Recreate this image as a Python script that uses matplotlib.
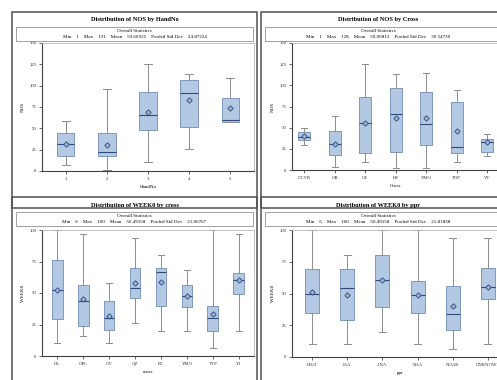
import matplotlib

matplotlib.use("Agg")

import matplotlib.pyplot as plt
from matplotlib.patches import Rectangle

# NOS by HandNo
hand_cats = ["1", "2", "3", "4", "5"]
hand_whislo = [7, 1, 10, 26, 58]
hand_q1 = [18, 17, 48, 51, 58]
hand_med = [32, 22, 66, 91, 60]
hand_q3 = [44, 45, 92, 107, 86]
hand_whishi = [59, 96, 125, 114, 109]
hand_mean = [31.6, 31, 69, 83, 74]

# NOS by Cross
cross_cats = ["OCVR", "OR", "GE", "BY", "YMO", "TOP", "VT"]
cross_whislo = [29, 3, 9, 2, 2, 9, 17]
cross_q1 = [35, 18, 20, 21, 29, 20, 21]
cross_med = [39.5, 31, 55, 66, 54, 27, 33]
cross_q3 = [45, 46, 86, 97, 92, 80, 37]
cross_whishi = [50, 64, 125, 113, 115, 95, 42]
cross_mean = [40, 31, 56, 61, 61, 46, 33]

# WEEK0 by cross
wk_cats = ["DL", "OPL", "OV", "QZ", "RC", "YMO", "YTP", "YJ"]
wk_whislo = [10, 16, 10, 26, 20, 20, 6, 20]
wk_q1 = [29.5, 23.6, 21, 46, 40, 39, 20, 49]
wk_med = [52.5, 44, 30, 54, 67, 48, 30, 60]
wk_q3 = [76, 56, 44, 70, 70, 56, 40, 66]
wk_whishi = [100, 96.5, 57.6, 94, 80, 68, 100, 96.5]
wk_mean = [52, 45, 32, 58, 59, 48, 33, 60]

# WEEK0 by ppr
ppr_cats = ["HAJI", "IAA", "JINA", "NAA", "NOAK", "UNKNOWN"]
ppr_whislo = [10, 10, 20, 10, 6, 10]
ppr_q1 = [35, 29, 39.5, 35, 21, 46]
ppr_med = [50, 54, 61, 49, 34, 55.5]
ppr_q3 = [69, 69, 80, 59.5, 56, 70]
ppr_whishi = [100, 80, 100, 100, 94, 94]
ppr_mean = [51, 49, 61, 49, 40.5, 55]

W, H = 497, 380
BOX_FILL = "#B3C8E3"
BOX_EDGE = "#6F8DB5"
MED_COLOR = "#2E4A78"
WHISK = "#8C8C8C"
FONT = ["Liberation Serif", "DejaVu Serif"]

fig = plt.figure(figsize=(W / 100, H / 100), dpi=100)
fig.patch.set_facecolor("white")


def px_rect(x0, y0, x1, y1):
    # pixel box (top-left origin) -> figure fraction [l, b, w, h]
    return [x0 / W, 1 - y1 / H, (x1 - x0) / W, (y1 - y0) / H]


def fig_frame(x0, y0, x1, y1, color="#505050", lw=1.0):
    l, b, w, h = px_rect(x0, y0, x1, y1)
    fig.patches.append(Rectangle((l, b), w, h, transform=fig.transFigure,
                                 fill=False, edgecolor=color, linewidth=lw))


def fig_text(x, y, s, **kw):
    fig.text(x / W, 1 - y / H, s, family=FONT, ha="center", va="center", **kw)


def panel(px0, py0, px1, ax_box, title, stats, cats, lo, q1, med, q3, hi, mean,
          ylim, yticks, xlabel, ylabel, xpad, box_w):
    # outer frame, title and statistics inset
    fig_frame(px0, py0, px1, py0 + 196, lw=1.1)
    cx = (px0 + 4 + min(px1, 497) - 4) / 2 if px1 < 300 else 378
    fig_text(cx, py0 + 8, title, fontsize=4.6, weight="bold")
    fig_frame(px0 + 4, py0 + 14.5, px1 - 4, py0 + 28.5, color="#909090", lw=0.6)
    fig_text(cx, py0 + 19, "Overall Statistics", fontsize=3.6)
    fig_text(cx, py0 + 25, stats, fontsize=3.6)

    ax = fig.add_axes(px_rect(*ax_box))
    stats_list = []
    for i in range(len(cats)):
        stats_list.append(dict(whislo=lo[i], q1=q1[i], med=med[i], q3=q3[i],
                               whishi=hi[i], mean=mean[i], fliers=[]))
    pos = list(range(1, len(cats) + 1))
    ax.bxp(stats_list, positions=pos, widths=box_w, patch_artist=True,
           showmeans=True, showcaps=True,
           boxprops=dict(facecolor=BOX_FILL, edgecolor=BOX_EDGE, linewidth=0.6),
           medianprops=dict(color=MED_COLOR, linewidth=0.8),
           whiskerprops=dict(color=WHISK, linewidth=0.7),
           capprops=dict(color=WHISK, linewidth=0.7),
           meanprops=dict(marker="D", markersize=2.8, markerfacecolor="#9DB6D8",
                          markeredgecolor=MED_COLOR, markeredgewidth=0.6))
    ax.set_xlim(1 - xpad, len(cats) + xpad)
    ax.set_ylim(*ylim)
    ax.set_yticks(yticks)
    ax.set_xticks(pos)
    ax.set_xticklabels(cats)
    for lab in ax.get_xticklabels() + ax.get_yticklabels():
        lab.set_family(FONT)
    ax.tick_params(labelsize=3.4, length=2, width=0.5, pad=2, colors="#303030")
    ax.set_xlabel(xlabel, fontsize=3.6, family=FONT, labelpad=3)
    ax.set_ylabel(ylabel, fontsize=3.6, family=FONT, labelpad=3)
    for side in ("left", "bottom"):
        ax.spines[side].set_color("#404040")
        ax.spines[side].set_linewidth(0.8)
    for side in ("top", "right"):
        ax.spines[side].set_color("#B8B8B8")
        ax.spines[side].set_linewidth(0.6)
    return ax


panel(12, 12, 257, (42, 43, 254, 171),
      "Distribution of NOS by HandNo",
      "Min    1    Max    131    Mean    59.60025    Pooled Std Dev    24.87224",
      hand_cats, hand_whislo, hand_q1, hand_med, hand_q3, hand_whishi, hand_mean,
      (0, 150), [0, 25, 50, 75, 100, 125, 150], "HandNo", "NOS", 0.58, 0.42)

panel(261, 12, 512, (292, 43, 499.5, 170),
      "Distribution of NOS by Cross",
      "Min    1    Max    128    Mean    59.00813    Pooled Std Dev    30.54730",
      cross_cats, cross_whislo, cross_q1, cross_med, cross_q3, cross_whishi, cross_mean,
      (0, 150), [0, 25, 50, 75, 100, 125, 150], "Cross", "NOS", 0.4, 0.38)

panel(12, 197, 257, (42, 230, 254, 356),
      "Distribution of WEEK0 by cross",
      "Min    6    Max    100    Mean    50.49158    Pooled Std Dev    21.06767",
      wk_cats, wk_whislo, wk_q1, wk_med, wk_q3, wk_whishi, wk_mean,
      (0, 100), [0, 25, 50, 75, 100], "cross", "WEEK0", 0.58, 0.42)

panel(261, 197, 512, (292, 230, 508, 357),
      "Distribution of WEEK0 by ppr",
      "Min    6    Max    100    Mean    50.49158    Pooled Std Dev    21.81838",
      ppr_cats, ppr_whislo, ppr_q1, ppr_med, ppr_q3, ppr_whishi, ppr_mean,
      (0, 100), [0, 25, 50, 75, 100], "ppr", "WEEK0", 0.57, 0.4)

fig.savefig("out.png", dpi=100, facecolor="white")
